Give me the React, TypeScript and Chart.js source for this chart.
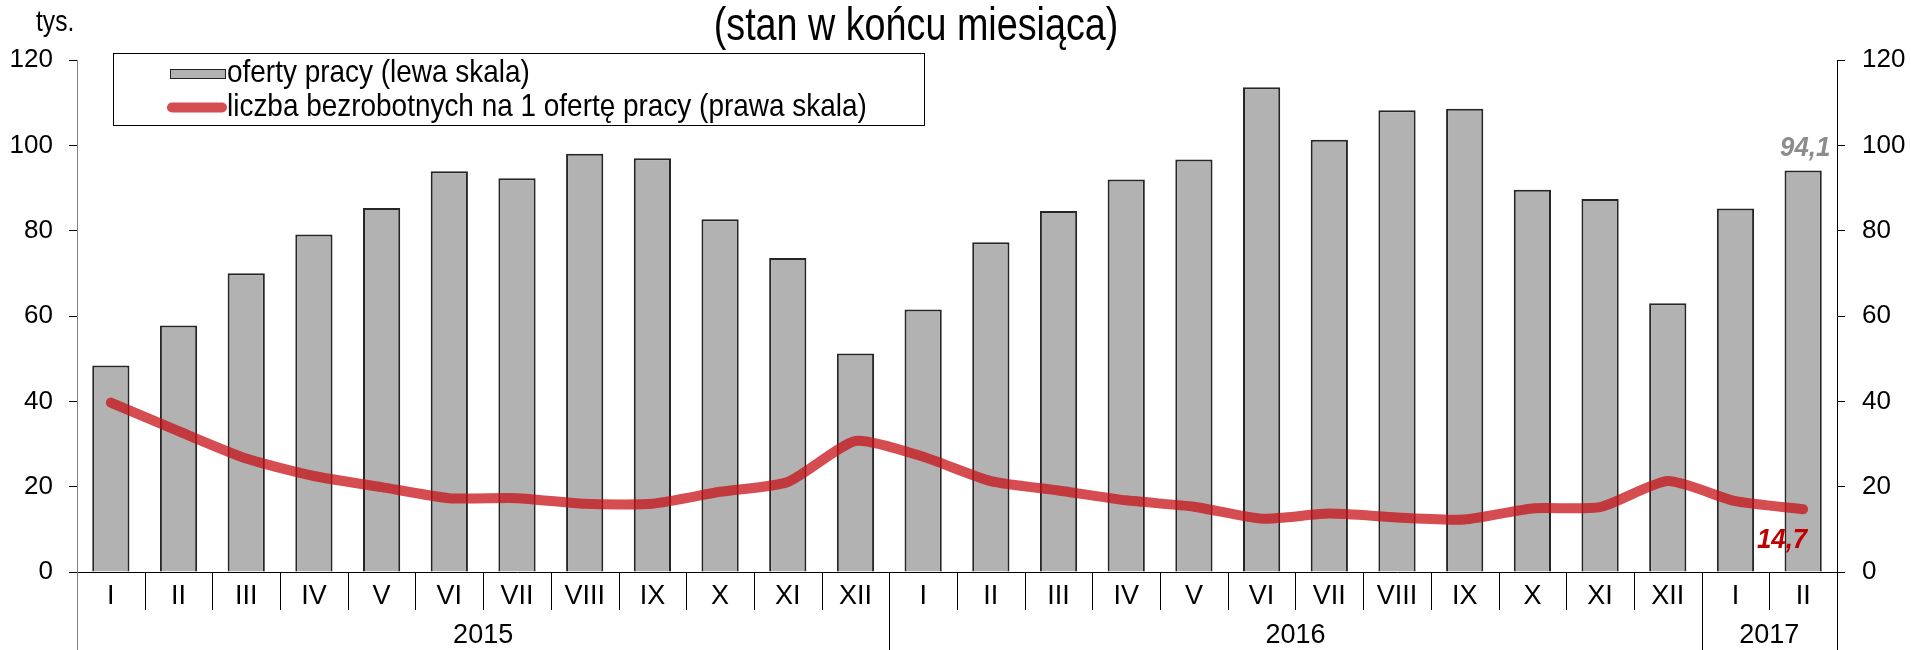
import React, { useEffect, useRef } from 'react';
import { Chart, registerables } from 'chart.js';

Chart.register(...registerables);

const months = ['I', 'II', 'III', 'IV', 'V', 'VI', 'VII', 'VIII', 'IX', 'X', 'XI', 'XII',
  'I', 'II', 'III', 'IV', 'V', 'VI', 'VII', 'VIII', 'IX', 'X', 'XI', 'XII', 'I', 'II'];
const yearLabels = ['2015', '2016', '2017'];
const yearSpans = [12, 12, 2];

// oferty pracy (tys.) - lewa skala
const jobOffers = [48.4, 57.8, 70.0, 79.1, 85.3, 93.9, 92.3, 98.0, 97.0, 82.7, 73.6, 51.2,
  61.5, 77.3, 84.6, 92.0, 96.7, 113.6, 101.3, 108.2, 108.6, 89.6, 87.4, 63.0, 85.2, 94.1];
// liczba bezrobotnych na 1 ofertę pracy - prawa skala
const unemployedPerOffer = [39.7, 33.0, 26.6, 22.5, 19.9, 17.3, 17.3, 16.0, 16.0, 18.8, 21.1, 30.7,
  27.0, 21.3, 19.1, 16.8, 15.3, 12.5, 13.7, 12.8, 12.3, 14.9, 15.2, 21.3, 16.6, 14.7];

const titleText = '(stan w końcu miesiąca)';
const unitText = 'tys.';
const legendBarText = 'oferty pracy (lewa skala)';
const legendLineText = 'liczba bezrobotnych na 1 ofertę pracy (prawa skala)';
const lastOfferLabel = '94,1';
const lastRatioLabel = '14,7';

const FONT = "'Liberation Sans', Arial, Helvetica, sans-serif";
const BAR_FILL = '#b2b2b2';
const BAR_BORDER = '#262626';
const LINE_COLOR = 'rgba(198, 14, 20, 0.74)';

function scaledText(ctx: CanvasRenderingContext2D, text: string, x: number, y: number,
  font: string, sx: number, align: CanvasTextAlign, color: string) {
  ctx.save();
  ctx.translate(x, y);
  ctx.scale(sx, 1);
  ctx.font = font;
  ctx.fillStyle = color;
  ctx.textAlign = align;
  ctx.textBaseline = 'alphabetic';
  ctx.fillText(text, 0, 0);
  ctx.restore();
}

const overlayPlugin = {
  id: 'overlay',
  afterDraw(chart: any) {
    const { ctx, chartArea, scales } = chart;
    const xs = scales.x;
    const ys = scales.y;
    const y1 = scales.y1;
    const H = chart.height;
    const n = months.length;
    const bottom = chartArea.bottom;
    const boundary = (i: number) => {
      if (i <= 0) return chartArea.left;
      if (i >= n) return chartArea.right;
      return (xs.getPixelForValue(i - 1) + xs.getPixelForValue(i)) / 2;
    };
    ctx.save();
    // separators below the axis
    const yearEdges: number[] = [0];
    let acc = 0;
    yearSpans.forEach((s) => { acc += s; yearEdges.push(acc); });
    ctx.lineWidth = 1;
    for (let i = 0; i <= n; i++) {
      const px = Math.round(boundary(i)) + 0.5;
      const isYear = yearEdges.includes(i);
      ctx.strokeStyle = i === 0 ? '#808080' : '#000';
      ctx.beginPath();
      ctx.moveTo(px, bottom);
      ctx.lineTo(px, isYear ? H : bottom + 38);
      ctx.stroke();
    }
    // year labels
    ctx.fillStyle = '#000';
    ctx.font = `27px ${FONT}`;
    ctx.textAlign = 'center';
    ctx.textBaseline = 'middle';
    yearLabels.forEach((lab, k) => {
      const cx = (boundary(yearEdges[k]) + boundary(yearEdges[k + 1])) / 2;
      ctx.fillText(lab, cx, bottom + 64);
    });

    // title
    scaledText(ctx, titleText, 916, 40, `46px ${FONT}`, 0.82, 'center', '#000');
    // unit
    scaledText(ctx, unitText, 36, 31, `30px ${FONT}`, 0.82, 'left', '#000');

    // legend
    ctx.fillStyle = '#fff';
    ctx.fillRect(113, 53, 811, 72);
    ctx.strokeStyle = '#000';
    ctx.lineWidth = 1;
    ctx.strokeRect(113.5, 53.5, 811, 72);
    ctx.fillStyle = BAR_FILL;
    ctx.fillRect(170, 69, 55, 9);
    ctx.strokeStyle = '#222';
    ctx.strokeRect(170.5, 69.5, 55, 9);
    ctx.strokeStyle = LINE_COLOR;
    ctx.lineWidth = 10;
    ctx.lineCap = 'round';
    ctx.beginPath();
    ctx.moveTo(172, 107.5);
    ctx.lineTo(222, 107.5);
    ctx.stroke();
    scaledText(ctx, legendBarText, 227, 82, `32px ${FONT}`, 0.873, 'left', '#000');
    scaledText(ctx, legendLineText, 227, 116, `32px ${FONT}`, 0.873, 'left', '#000');

    // data labels for last values
    const lastIdx = n - 1;
    const bx = xs.getPixelForValue(lastIdx);
    const by = ys.getPixelForValue(jobOffers[lastIdx]);
    scaledText(ctx, lastOfferLabel, bx + 2, by - 15, `italic bold 28px ${FONT}`, 0.92, 'center', '#8c8c8c');
    const ly = y1.getPixelForValue(unemployedPerOffer[lastIdx]);
    scaledText(ctx, lastRatioLabel, bx + 4, ly + 39, `italic bold 28px ${FONT}`, 0.92, 'right', '#c00000');
    ctx.restore();
  },
};

export default function App() {
  const canvasRef = useRef<HTMLCanvasElement | null>(null);

  useEffect(() => {
    if (!canvasRef.current) return;
    const yAxisCommon = {
      min: 0,
      max: 120,
      ticks: {
        stepSize: 20,
        color: '#000',
        font: { family: FONT, size: 26 },
      },
      grid: { drawOnChartArea: false, drawTicks: true, tickLength: 8, color: '#000' },
    };
    const chart = new Chart(canvasRef.current, {
      type: 'bar',
      data: {
        labels: months,
        datasets: [
          {
            type: 'line',
            label: legendLineText,
            data: unemployedPerOffer,
            yAxisID: 'y1',
            borderColor: LINE_COLOR,
            backgroundColor: LINE_COLOR,
            borderWidth: 10,
            pointRadius: 0,
            pointHoverRadius: 0,
            tension: 0.2,
            borderCapStyle: 'round',
            borderJoinStyle: 'round',
            fill: false,
            order: 0,
          } as any,
          {
            type: 'bar',
            label: legendBarText,
            data: jobOffers,
            yAxisID: 'y',
            backgroundColor: BAR_FILL,
            borderColor: BAR_BORDER,
            borderWidth: 2,
            barPercentage: 0.55,
            categoryPercentage: 1,
            order: 1,
          } as any,
        ],
      },
      options: {
        animation: false,
        responsive: true,
        maintainAspectRatio: false,
        devicePixelRatio: 1,
        layout: { padding: { top: 60, left: 0, right: 0, bottom: 0 } },
        plugins: {
          legend: { display: false },
          title: { display: false },
          tooltip: { enabled: false },
        },
        scales: {
          x: {
            type: 'category',
            offset: true,
            grid: { display: true, drawOnChartArea: false, drawTicks: false },
            border: { display: true, color: '#000', width: 1 },
            ticks: {
              color: '#000',
              font: { family: FONT, size: 27 },
              padding: 8,
              maxRotation: 0,
              autoSkip: false,
            },
            afterFit: (s: any) => { s.height = 78; },
          },
          y: {
            ...yAxisCommon,
            position: 'left',
            ticks: { ...yAxisCommon.ticks, padding: 16 },
            border: { display: true, color: '#808080', width: 1 },
            afterFit: (s: any) => { s.width = 77; },
          },
          y1: {
            ...yAxisCommon,
            position: 'right',
            ticks: { ...yAxisCommon.ticks, padding: 17 },
            border: { display: true, color: '#000', width: 1 },
            afterFit: (s: any) => { s.width = 74; },
          },
        },
      } as any,
      plugins: [overlayPlugin],
    });
    return () => chart.destroy();
  }, []);

  return (
    <div style={{ position: 'absolute', left: 0, top: 0, width: '1911px', height: '650px', background: '#fff' }}>
      <canvas ref={canvasRef} />
    </div>
  );
}
